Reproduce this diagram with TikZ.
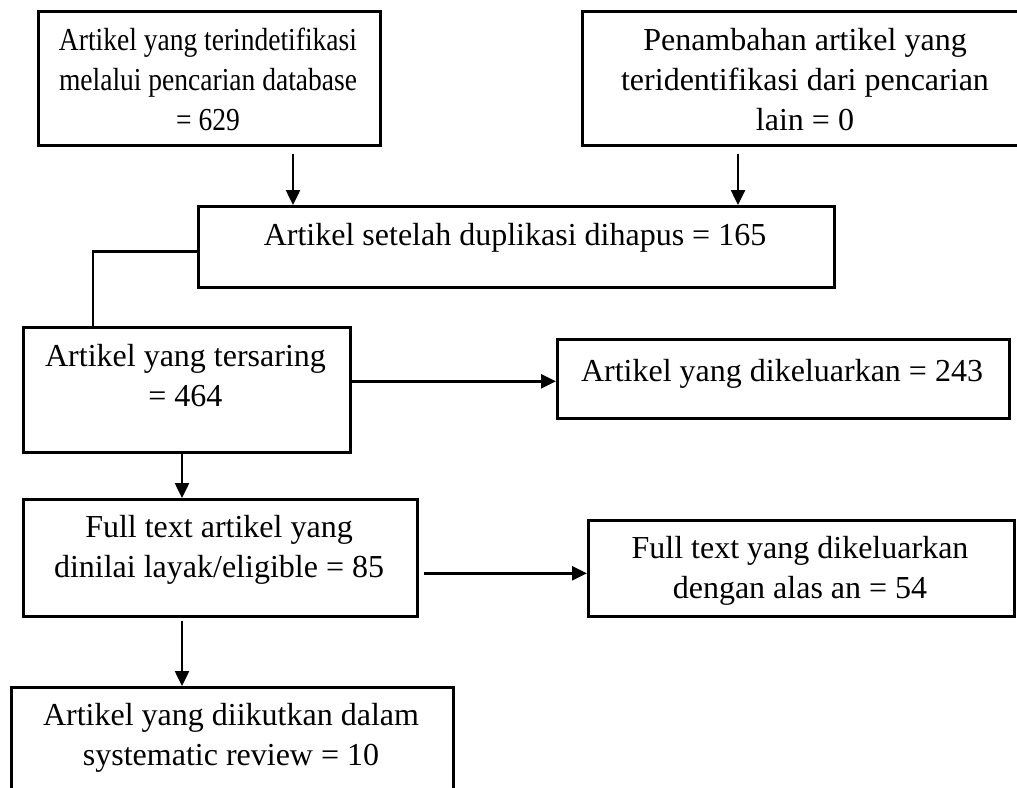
\documentclass[tikz,border=0pt]{standalone}
\usepackage{fontspec}
\setmainfont{Liberation Serif}
\newfontfamily\tightserif[FakeStretch=0.86]{Liberation Serif}
\usetikzlibrary{arrows.meta,calc}
\tikzset{
  box/.style={draw=black, line width=2.6pt, rectangle, inner sep=0pt, anchor=north west},
  txt/.style={inner sep=0pt, anchor=north, align=center, font=\fontsize{32}{40}\selectfont},
  conn/.style={draw=black, line width=2.5pt},
  arr/.style={conn, -{Triangle[length=15pt,width=14pt]}}
}
\begin{document}
\begin{tikzpicture}[x=1pt,y=-1pt]
\useasboundingbox (0,0) rectangle (1017,787);
% boxes
\node[box, minimum width=342pt, minimum height=134pt] (b1) at (37,10) {};
\node[box, minimum width=449pt, minimum height=134pt] (b2) at (581,10) {};
\node[box, minimum width=636pt, minimum height=81pt] (dup) at (197,205) {};
\node[box, minimum width=327pt, minimum height=125pt] (ters) at (22,326) {};
\node[box, minimum width=452pt, minimum height=79pt] (dik) at (556,338) {};
\node[box, minimum width=394pt, minimum height=117pt] (full) at (22,498) {};
\node[box, minimum width=426pt, minimum height=96pt] (fdik) at (587,519) {};
\node[box, minimum width=442pt, minimum height=120pt] (fin) at (10,686) {};
% texts
\node[txt, font=\fontsize{32}{40}\tightserif] (t1) at (208,22) {\strut Artikel yang terindetifikasi\\melalui pencarian database\\= 629};
\node[txt] (t2) at (805,22) {\strut Penambahan artikel yang\\teridentifikasi dari pencarian\\lain = 0};
\node[txt] (tdup) at (515,217) {\strut Artikel setelah duplikasi dihapus = 165};
\node[txt] (tters) at (185.5,338) {\strut Artikel yang tersaring\\= 464};
\node[txt] (tdik) at (782,353) {\strut Artikel yang dikeluarkan = 243};
\node[txt] (tfull) at (219,509) {\strut Full text artikel yang\\dinilai layak/eligible = 85};
\node[txt] (tfdik) at (800,530) {\strut Full text yang dikeluarkan\\dengan alas an = 54};
\node[txt] (tfin) at (231,697) {\strut Artikel yang diikutkan dalam\\systematic review = 10};
% connectors
\coordinate (p1) at ([xshift=256pt]b1.south west);
\draw[arr, shorten <=7pt] (p1) -- (p1 |- dup.north);
\coordinate (p2) at ([xshift=157pt]b2.south west);
\draw[arr, shorten <=7pt] (p2) -- (p2 |- dup.north);
\coordinate (p3) at ([yshift=-4.5pt]dup.west);
\draw[conn] (p3) -| ([xshift=71pt]ters.north west);
\coordinate (c1) at ([yshift=-2.5pt]dik.west);
\draw[arr] (ters.east |- c1) -- (c1);
\coordinate (p4) at ([xshift=160pt]ters.south west);
\draw[arr] (p4) -- (p4 |- full.north);
\coordinate (c2) at ([yshift=-5pt]fdik.west);
\draw[arr, shorten <=5pt] (full.east |- c2) -- (c2);
\coordinate (p5) at ([xshift=160pt]full.south west);
\draw[arr, shorten <=3pt] (p5) -- (p5 |- fin.north);
\end{tikzpicture}
\end{document}
